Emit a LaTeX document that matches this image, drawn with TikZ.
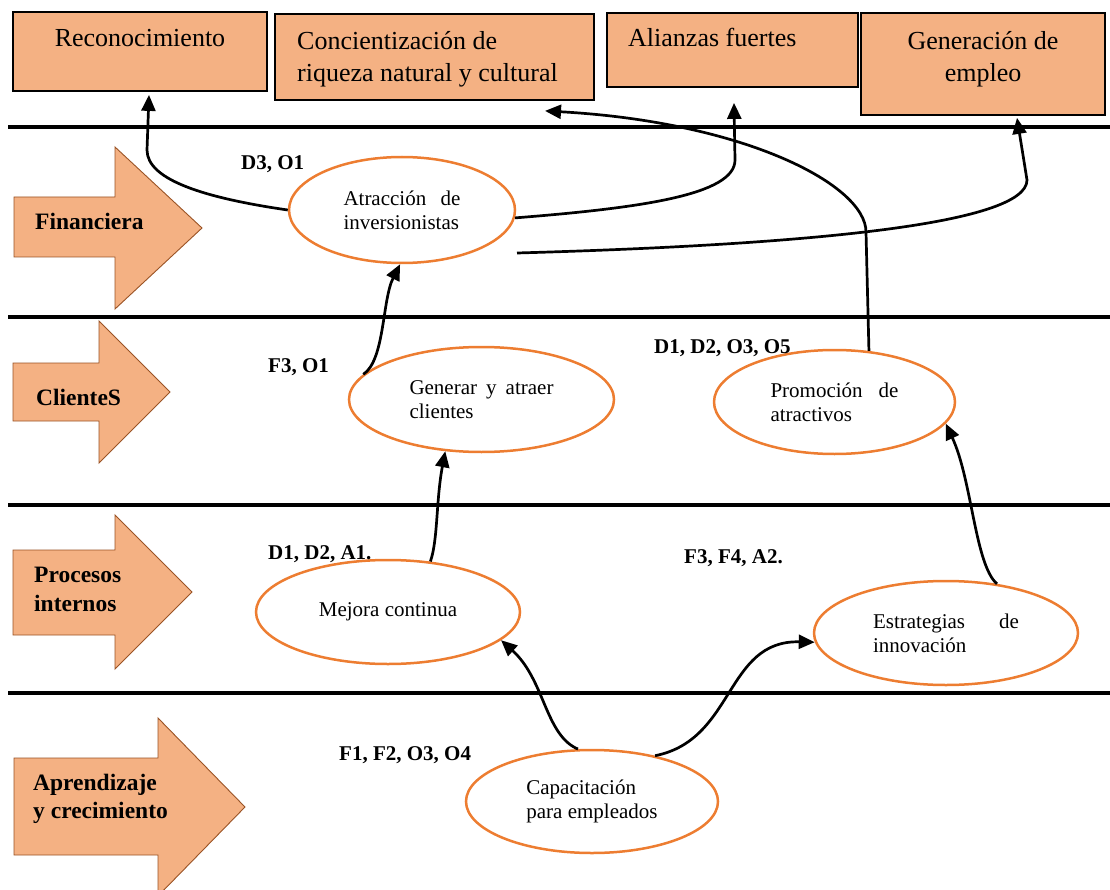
\documentclass[tikz,border=0pt]{standalone}
\usepackage{fontspec}
\setmainfont{Liberation Serif}
\usetikzlibrary{shapes.geometric,arrows.meta}
\definecolor{peach}{HTML}{F4B183}
\definecolor{orangeline}{HTML}{ED7D31}
\definecolor{arrowedge}{HTML}{9A5325}
\begin{document}
\begin{tikzpicture}[x=1pt,y=-1pt,
  rule/.style={line width=4pt},
  goal/.style={draw=black, line width=1.8pt, fill=peach, inner sep=0pt},
  goaltext/.style={font=\fontsize{26}{32}\selectfont, inner sep=0pt},
  lane/.style={draw=arrowedge, line width=0.9pt, fill=peach},
  lanetext/.style={font=\fontsize{23.5}{28.5}\selectfont\bfseries, inner sep=0pt, anchor=base west},
  tag/.style={font=\fontsize{21}{25}\selectfont\bfseries, inner sep=0pt, anchor=base west},
  objective/.style={ellipse, draw=orangeline, line width=2.5pt, fill=white, inner sep=0pt,
    font=\fontsize{21}{24}\selectfont, align=left},
  link/.style={line width=2.7pt, -{Triangle[length=16pt,width=14pt]}},
]
\useasboundingbox (0,0) rectangle (1110,890);

% perspective separators
\draw[rule] (8,127) -- (1110,127);
\draw[rule] (8,317) -- (1110,317);
\draw[rule] (8,505) -- (1110,505);
\draw[rule] (8,693) -- (1110,693);

% result boxes
\node[goal, minimum width=254, minimum height=79] (rec) at (140,51.5) {};
\node[goal, minimum width=319, minimum height=86] (con) at (434.5,57) {};
\node[goal, minimum width=251, minimum height=74] (ali) at (732.5,50) {};
\node[goal, minimum width=244, minimum height=102] (gem) at (983,64) {};
\node[goaltext, anchor=base] (rect) at (140,47) {Reconocimiento};
\node[goaltext, anchor=base west] (cont1) at (297,50) {Concientización de};
\node[goaltext, anchor=base west] (cont2) at (297,82) {riqueza natural y cultural};
\node[goaltext, anchor=base west] (alit) at (628,47) {Alianzas fuertes};
\node[goaltext, anchor=base] (gemt1) at (983,50) {Generación de};
\node[goaltext, anchor=base] (gemt2) at (983,82) {empleo};

% perspective arrows
\draw[lane] (14,197) -- (115,197) -- (115,147) -- (202,228) -- (115,309) -- (115,257) -- (14,257) -- cycle;
\draw[lane] (13,363) -- (99,363) -- (99,321) -- (170,392) -- (99,463) -- (99,421) -- (13,421) -- cycle;
\draw[lane] (13,550) -- (115,550) -- (115,515) -- (192,592) -- (115,669) -- (115,635) -- (13,635) -- cycle;
\draw[lane] (14,758) -- (158,758) -- (158,718) -- (245,807) -- (158,896) -- (158,855) -- (14,855) -- cycle;
\node[lanetext] (fin) at (35,230) {Financiera};
\node[lanetext] (cli) at (36,405) {ClienteS};
\node[lanetext] (pro1) at (34,582) {Procesos};
\node[lanetext] (pro2) at (34,611) {internos};
\node[lanetext] (apr1) at (33,790) {Aprendizaje};
\node[lanetext] (apr2) at (33,818) {y crecimiento};

% strategic objectives
\node[objective, minimum width=226, minimum height=106] (atr) at (402,210)
  {\hbox to 117pt{Atracción\hfill de}\\inversionistas};
\node[objective, minimum width=265, minimum height=105] (gen) at (481.5,399.5)
  {\hbox to 144pt{Generar\hfill y\hfill atraer}\\clientes};
\node[objective, minimum width=241, minimum height=104] (prom) at (834.5,402)
  {\hbox to 128pt{Promoción\hfill de}\\atractivos};
\node[objective, minimum width=264, minimum height=104] (mej) at (388,612)
  {\raisebox{-3pt}{Mejora continua}};
\node[objective, minimum width=264, minimum height=104] (est) at (946,633)
  {\hbox to 146pt{Estrategias\hfill de}\\innovación};
\node[objective, minimum width=252, minimum height=103] (cap) at (592,801.5)
  {Capacitación\\para empleados};

% FODA tags
\node[tag] (t1) at (241,170) {D3, O1};
\node[tag] (t2) at (268,372) {F3, O1};
\node[tag] (t3) at (654,353) {D1, D2, O3, O5};
\node[tag] (t4) at (268,559) {D1, D2, A1.};
\node[tag] (t5) at (684,563) {F3, F4, A2.};
\node[tag] (t6) at (339,760) {F1, F2, O3, O4};

% cause-effect links
\coordinate (g0) at (517,253);
\draw[link] (atr.west) .. controls (205,198) and (147,180) .. (147,150) -- ([xshift=9pt,yshift=-3pt]rec.south);
\draw[link] (atr.-4) .. controls (640,208) and (735,195) .. (735,160) -- ([xshift=1.5pt,yshift=-15pt]ali.south);
\draw[link] (g0) .. controls (800,245) and (1027,225) .. (1027,180) -- ([xshift=34pt,yshift=-2pt]gem.south);
\draw[link] (prom.56) -- (866,232) .. controls (866,185) and (745,122) .. ([xshift=110.5pt,yshift=-10pt]con.south);
\draw[link] (gen.168) .. controls (385,360) and (382,300) .. (atr.268);
\draw[link] (mej.50) .. controls (438,540) and (436,500) .. (gen.235);
\draw[link] (est.44) .. controls (975,565) and (972,480) .. (prom.-11);
\draw[link] (cap.105) .. controls (545,735) and (545,680) .. (mej.-14);
\draw[link] (cap.36) .. controls (735,740) and (725,640) .. (est.184);
\end{tikzpicture}
\end{document}
